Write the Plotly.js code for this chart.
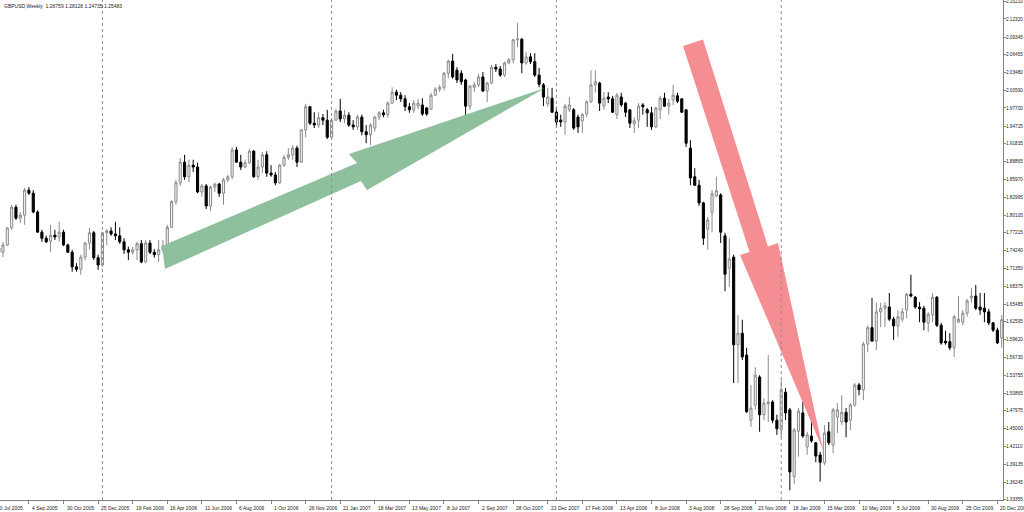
<!DOCTYPE html>
<html><head><meta charset="utf-8">
<script src="https://cdn.plot.ly/plotly-3.0.1.min.js"></script>
<style>html,body{margin:0;padding:0;background:#fff;}#chart{width:1024px;height:512px;}</style>
</head><body><div id="chart"></div>
<script>
const symbolTitle = 'GBPUSD,Weekly  1.26759 1.28128 1.24735 1.25483';

const weekDates = ('2005-07-17 2005-07-24 2005-07-31 2005-08-07 2005-08-14 2005-08-21 2005-08-28 2005-09-04 2005-09-11 2005-09-18 2005-09-25 2005-10-02 2005-10-09 2005-10-16 2005-10-23 2005-10-30 2005-11-06 2005-11-13 2005-11-20 2005-11-27 2005-12-04 2005-12-11 2005-12-18 2005-12-25 ' +
'2006-01-01 2006-01-08 2006-01-15 2006-01-22 2006-01-29 2006-02-05 2006-02-12 2006-02-19 2006-02-26 2006-03-05 2006-03-12 2006-03-19 2006-03-26 2006-04-02 2006-04-09 2006-04-16 2006-04-23 2006-04-30 2006-05-07 2006-05-14 2006-05-21 2006-05-28 2006-06-04 2006-06-11 2006-06-18 2006-06-25 2006-07-02 2006-07-09 2006-07-16 2006-07-23 2006-07-30 2006-08-06 2006-08-13 2006-08-20 2006-08-27 2006-09-03 2006-09-10 2006-09-17 2006-09-24 2006-10-01 2006-10-08 2006-10-15 2006-10-22 2006-10-29 2006-11-05 2006-11-12 2006-11-19 2006-11-26 2006-12-03 2006-12-10 2006-12-17 2006-12-24 2006-12-31 ' +
'2007-01-07 2007-01-14 2007-01-21 2007-01-28 2007-02-04 2007-02-11 2007-02-18 2007-02-25 2007-03-04 2007-03-11 2007-03-18 2007-03-25 2007-04-01 2007-04-08 2007-04-15 2007-04-22 2007-04-29 2007-05-06 2007-05-13 2007-05-20 2007-05-27 2007-06-03 2007-06-10 2007-06-17 2007-06-24 2007-07-01 2007-07-08 2007-07-15 2007-07-22 2007-07-29 2007-08-05 2007-08-12 2007-08-19 2007-08-26 2007-09-02 2007-09-09 2007-09-16 2007-09-23 2007-09-30 2007-10-07 2007-10-14 2007-10-21 2007-10-28 2007-11-04 2007-11-11 2007-11-18 2007-11-25 2007-12-02 2007-12-09 2007-12-16 2007-12-23 2007-12-30 ' +
'2008-01-06 2008-01-13 2008-01-20 2008-01-27 2008-02-03 2008-02-10 2008-02-17 2008-02-24 2008-03-02 2008-03-09 2008-03-16 2008-03-23 2008-03-30 2008-04-06 2008-04-13 2008-04-20 2008-04-27 2008-05-04 2008-05-11 2008-05-18 2008-05-25 2008-06-01 2008-06-08 2008-06-15 2008-06-22 2008-06-29 2008-07-06 2008-07-13 2008-07-20 2008-07-27 2008-08-03 2008-08-10 2008-08-17 2008-08-24 2008-08-31 2008-09-07 2008-09-14 2008-09-21 2008-09-28 2008-10-05 2008-10-12 2008-10-19 2008-10-26 2008-11-02 2008-11-09 2008-11-16 2008-11-23 2008-11-30 2008-12-07 2008-12-14 2008-12-21 2008-12-28 ' +
'2009-01-04 2009-01-11 2009-01-18 2009-01-25 2009-02-01 2009-02-08 2009-02-15 2009-02-22 2009-03-01 2009-03-08 2009-03-15 2009-03-22 2009-03-29 2009-04-05 2009-04-12 2009-04-19 2009-04-26 2009-05-03 2009-05-10 2009-05-17 2009-05-24 2009-05-31 2009-06-07 2009-06-14 2009-06-21 2009-06-28 2009-07-05 2009-07-12 2009-07-19 2009-07-26 2009-08-02 2009-08-09 2009-08-16 2009-08-23 2009-08-30 2009-09-06 2009-09-13 2009-09-20 2009-09-27 2009-10-04 2009-10-11 2009-10-18 2009-10-25 2009-11-01 2009-11-08 2009-11-15 2009-11-22 2009-11-29 2009-12-06 2009-12-13 2009-12-20 2009-12-27').split(' ');

const openPrices = [
1.747,1.740,1.752,1.780,1.814,1.796,1.801,1.842,1.837,1.806,
1.773,1.763,1.758,1.768,1.765,1.773,1.752,1.740,1.716,1.712,
1.732,1.755,1.772,1.731,1.719,1.772,1.775,1.770,1.767,1.757,
1.744,1.740,1.744,1.754,1.724,1.755,1.740,1.736,1.744,1.750,
1.781,1.823,1.854,1.888,1.864,1.883,1.880,1.839,1.849,1.816,
1.847,1.852,1.837,1.859,1.864,1.908,1.888,1.880,1.887,1.906,
1.864,1.880,1.900,1.870,1.867,1.854,1.883,1.896,1.900,1.911,
1.888,1.941,1.979,1.952,1.949,1.961,1.957,1.929,1.957,1.972,
1.959,1.965,1.949,1.946,1.962,1.938,1.933,1.944,1.962,1.969,
1.966,1.985,2.003,1.998,1.992,1.979,1.974,1.980,1.982,1.977,
1.975,1.998,2.008,2.011,2.034,2.054,2.039,2.034,2.023,1.980,
2.011,2.015,2.028,2.005,2.018,2.044,2.041,2.031,2.051,2.056,
2.089,2.090,2.051,2.061,2.053,2.031,2.015,1.984,1.993,1.970,
1.957,1.954,1.974,1.974,1.962,1.956,1.967,1.987,2.015,2.018,
1.980,1.995,1.992,1.966,1.995,1.985,1.974,1.951,1.957,1.982,
1.974,1.969,1.946,1.974,1.993,1.980,1.990,1.997,1.992,1.974,
1.911,1.864,1.850,1.821,1.778,1.805,1.832,1.834,1.767,1.714,
1.732,1.588,1.607,1.571,1.464,1.489,1.535,1.473,1.491,1.494,
1.464,1.448,1.510,1.481,1.371,1.446,1.476,1.420,1.438,1.427,
1.407,1.394,1.445,1.423,1.469,1.461,1.477,1.464,1.489,1.522,
1.514,1.589,1.616,1.594,1.642,1.648,1.650,1.630,1.619,1.630,
1.645,1.671,1.666,1.650,1.648,1.624,1.637,1.666,1.620,1.594,
1.593,1.583,1.625,1.625,1.640,1.665,1.668,1.650,1.648,1.642,
1.624,1.612,1.599];

const highPrices = [
1.754,1.757,1.781,1.818,1.818,1.806,1.846,1.847,1.842,1.809,
1.777,1.767,1.785,1.777,1.790,1.777,1.754,1.744,1.722,1.736,
1.757,1.780,1.775,1.736,1.773,1.778,1.781,1.790,1.781,1.763,
1.749,1.749,1.757,1.760,1.760,1.760,1.745,1.760,1.760,1.785,
1.826,1.859,1.895,1.900,1.892,1.892,1.887,1.852,1.852,1.850,
1.854,1.854,1.862,1.867,1.913,1.913,1.900,1.892,1.910,1.908,
1.892,1.905,1.906,1.883,1.872,1.885,1.900,1.911,1.916,1.915,
1.942,1.984,1.980,1.970,1.970,1.967,1.974,1.961,1.975,1.992,
1.974,1.970,1.957,1.966,1.966,1.949,1.952,1.964,1.972,1.974,
1.988,2.011,2.007,2.003,1.998,1.985,1.990,1.992,1.993,1.979,
2.002,2.011,2.015,2.036,2.056,2.066,2.044,2.039,2.025,2.015,
2.020,2.033,2.036,2.020,2.048,2.049,2.046,2.053,2.059,2.090,
2.117,2.092,2.069,2.067,2.067,2.043,2.018,2.010,2.010,1.979,
1.966,1.984,1.995,1.977,1.966,1.969,1.990,2.039,2.039,2.020,
2.003,2.003,1.997,2.002,2.002,1.987,1.975,1.962,1.985,1.985,
1.977,1.979,1.979,1.997,2.002,1.992,2.015,2.002,1.993,1.975,
1.924,1.878,1.859,1.823,1.798,1.842,1.864,1.837,1.772,1.763,
1.736,1.637,1.629,1.583,1.522,1.551,1.538,1.500,1.571,1.497,
1.473,1.530,1.517,1.484,1.451,1.484,1.494,1.445,1.464,1.428,
1.412,1.456,1.461,1.484,1.492,1.505,1.484,1.492,1.525,1.525,
1.593,1.620,1.665,1.657,1.657,1.658,1.673,1.634,1.645,1.648,
1.673,1.703,1.668,1.658,1.652,1.642,1.673,1.668,1.624,1.611,
1.607,1.637,1.668,1.645,1.663,1.681,1.686,1.673,1.673,1.647,
1.625,1.616,1.637];

const lowPrices = [
1.732,1.732,1.750,1.777,1.793,1.788,1.785,1.834,1.804,1.772,
1.757,1.755,1.740,1.760,1.757,1.750,1.739,1.708,1.708,1.703,
1.727,1.745,1.727,1.711,1.716,1.752,1.767,1.760,1.754,1.737,
1.727,1.736,1.727,1.722,1.722,1.737,1.731,1.724,1.740,1.747,
1.780,1.818,1.849,1.859,1.855,1.872,1.837,1.831,1.811,1.808,
1.839,1.831,1.818,1.855,1.860,1.887,1.875,1.878,1.885,1.862,
1.859,1.870,1.864,1.864,1.850,1.852,1.880,1.892,1.892,1.880,
1.887,1.929,1.949,1.944,1.944,1.949,1.926,1.928,1.956,1.954,
1.952,1.946,1.941,1.941,1.932,1.919,1.916,1.938,1.957,1.962,
1.961,1.984,1.990,1.987,1.972,1.969,1.969,1.975,1.964,1.964,
1.974,1.997,2.003,2.006,2.026,2.025,2.018,2.015,1.965,1.974,
2.003,2.011,2.003,1.987,2.016,2.036,2.028,2.028,2.049,2.051,
2.077,2.034,2.048,2.049,2.028,2.011,1.980,1.979,1.969,1.946,
1.946,1.933,1.970,1.941,1.936,1.936,1.962,1.985,2.002,1.972,
1.974,1.985,1.969,1.959,1.979,1.962,1.944,1.936,1.944,1.966,
1.946,1.941,1.944,1.959,1.979,1.966,1.982,1.985,1.969,1.913,
1.850,1.849,1.816,1.752,1.744,1.773,1.831,1.755,1.676,1.683,
1.525,1.525,1.563,1.476,1.453,1.481,1.445,1.464,1.461,1.459,
1.440,1.435,1.464,1.349,1.359,1.404,1.435,1.407,1.427,1.395,
1.363,1.390,1.423,1.410,1.443,1.456,1.436,1.448,1.486,1.505,
1.497,1.576,1.593,1.579,1.617,1.617,1.627,1.596,1.601,1.625,
1.632,1.666,1.647,1.625,1.612,1.609,1.625,1.617,1.588,1.588,
1.579,1.568,1.624,1.620,1.634,1.657,1.645,1.637,1.625,1.620,
1.609,1.589,1.583];

const closePrices = [
1.740,1.752,1.780,1.814,1.796,1.801,1.842,1.837,1.806,1.773,
1.763,1.757,1.768,1.765,1.773,1.752,1.740,1.716,1.712,1.732,
1.755,1.772,1.731,1.719,1.772,1.775,1.770,1.767,1.757,1.744,
1.740,1.744,1.754,1.724,1.755,1.740,1.736,1.744,1.750,1.781,
1.823,1.854,1.888,1.864,1.883,1.880,1.839,1.849,1.816,1.847,
1.852,1.837,1.859,1.864,1.908,1.888,1.880,1.887,1.906,1.864,
1.880,1.900,1.870,1.867,1.854,1.883,1.896,1.900,1.911,1.888,
1.941,1.979,1.952,1.949,1.961,1.957,1.929,1.957,1.972,1.959,
1.965,1.949,1.946,1.962,1.938,1.933,1.949,1.962,1.969,1.966,
1.985,2.003,1.998,1.992,1.979,1.974,1.985,1.985,1.967,1.967,
1.998,2.008,2.011,2.034,2.054,2.028,2.023,2.020,1.980,2.013,
2.015,2.028,2.005,2.018,2.044,2.041,2.031,2.051,2.056,2.089,
2.090,2.051,2.061,2.053,2.031,2.016,1.995,1.995,1.970,1.954,
1.954,1.980,1.982,1.944,1.946,1.966,1.987,2.015,2.020,1.985,
1.993,1.992,1.970,1.998,1.982,1.970,1.952,1.956,1.980,1.979,
1.969,1.946,1.977,1.993,1.980,1.985,1.998,1.988,1.970,1.919,
1.862,1.850,1.821,1.763,1.793,1.836,1.841,1.773,1.704,1.729,
1.588,1.607,1.568,1.478,1.484,1.538,1.473,1.492,1.494,1.464,
1.450,1.514,1.476,1.379,1.448,1.479,1.438,1.440,1.430,1.405,
1.395,1.443,1.427,1.481,1.481,1.477,1.461,1.489,1.522,1.514,
1.589,1.616,1.594,1.642,1.648,1.652,1.630,1.619,1.634,1.642,
1.671,1.668,1.650,1.647,1.625,1.638,1.666,1.620,1.591,1.591,
1.583,1.634,1.630,1.640,1.660,1.668,1.648,1.645,1.642,1.624,
1.612,1.591,1.629];

const tickDates = ['2005-07-10','2005-09-04','2005-10-30','2005-12-25','2006-02-19','2006-04-16','2006-06-11','2006-08-06','2006-10-01','2006-11-26','2007-01-21','2007-03-18','2007-05-13','2007-07-08','2007-09-02','2007-10-28','2007-12-23','2008-02-17','2008-04-13','2008-06-08','2008-08-03','2008-09-28','2008-11-23','2009-01-18','2009-03-15','2009-05-10','2009-07-05','2009-08-30','2009-10-25','2009-12-20'];
const tickLabels = ['10 Jul 2005','4 Sep 2005','30 Oct 2005','25 Dec 2005','19 Feb 2006','16 Apr 2006','11 Jun 2006','6 Aug 2006','1 Oct 2006','26 Nov 2006','21 Jan 2007','18 Mar 2007','13 May 2007','8 Jul 2007','2 Sep 2007','28 Oct 2007','23 Dec 2007','17 Feb 2008','13 Apr 2008','8 Jun 2008','3 Aug 2008','28 Sep 2008','23 Nov 2008','18 Jan 2009','15 Mar 2009','10 May 2009','5 Jul 2009','30 Aug 2009','25 Oct 2009','20 Dec 2009'];

const priceTicks = [2.15210,2.12320,2.09345,2.06455,2.03480,2.00590,1.97700,1.94725,1.91835,1.88865,1.85970,1.82995,1.80105,1.77215,1.74240,1.71350,1.68375,1.65485,1.62595,1.59620,1.56730,1.53755,1.50865,1.47975,1.45000,1.42110,1.39135,1.36245,1.33355];

const yearSeparators = ['2006-01-01','2007-01-07','2008-01-06','2009-01-04'];

// drawn arrow objects (vertex time / price)
const greenArrowTime = ['2006-04-07 10:00','2007-02-17 05:00','2007-02-04 05:00','2007-12-18 14:00','2007-03-05 10:00','2007-02-23 14:00','2006-04-12 07:00','2006-04-07 10:00'];
const greenArrowPrice = [1.7502,1.8866,1.9014,2.0098,1.8422,1.8571,1.7124,1.7502];
const redArrowTime = ['2008-07-29 00:00','2008-11-13 19:00','2008-10-29 07:00','2009-03-12 17:00','2008-12-29 19:00','2008-12-13 14:00','2008-08-30 10:00','2008-07-29 00:00'];
const redArrowPrice = [2.0788,1.7404,1.7355,1.4151,1.7552,1.7495,2.0895,2.0788];

const xRange = ['2005-07-19 03:40','2009-12-29 02:00'];
const yRange = [1.3329, 2.1544];

const fontFam = 'Liberation Sans, Arial, sans-serif';
const traces = [
  {type:'scatter', mode:'lines', x:greenArrowTime, y:greenArrowPrice, fill:'toself', fillcolor:'rgb(143,192,158)', line:{color:'rgba(0,0,0,0)', width:0}, hoverinfo:'skip'},
  {type:'scatter', mode:'lines', x:redArrowTime, y:redArrowPrice, fill:'toself', fillcolor:'rgb(245,142,147)', line:{color:'rgba(0,0,0,0)', width:0}, hoverinfo:'skip'},
  {type:'candlestick', x:weekDates, open:openPrices, high:highPrices, low:lowPrices, close:closePrices,
   increasing:{line:{color:'#8a8a8a', width:1}, fillcolor:'#f4f4f4'},
   decreasing:{line:{color:'#000000', width:1}, fillcolor:'#000000'},
   whiskerwidth:0, hoverinfo:'skip'}
];

const annotations = [];
annotations.push({xref:'paper', yref:'paper', x:0, y:1, xanchor:'left', yanchor:'top', xshift:2, yshift:-1, text:symbolTitle, showarrow:false, font:{family:fontFam, size:5, color:'#222'}});
const x0 = new Date(xRange[0].replace(' ','T')+'Z').getTime();
const x1 = new Date(xRange[1].replace(' ','T')+'Z').getTime();
tickDates.forEach((d,i)=>{
  const t = new Date(d+'T00:00:00Z').getTime();
  const inRange = t >= x0 && t <= x1;
  annotations.push({xref: inRange ? 'x' : 'paper', x: inRange ? d : (t-x0)/(x1-x0), yref:'paper', y:0, xanchor:'left', yanchor:'top', xshift:1, yshift:-3,
    text:tickLabels[i], showarrow:false, font:{family:fontFam, size:5, color:'#222'}});
});

const layout = {
  width:1024, height:512, margin:{l:0, r:21, t:0, b:12},
  paper_bgcolor:'#ffffff', plot_bgcolor:'#ffffff', showlegend:false,
  xaxis:{type:'date', range:xRange, rangeslider:{visible:false}, showgrid:false, zeroline:false,
    showline:true, linecolor:'#808080', linewidth:1, tickvals:tickDates, ticks:'outside', ticklen:3, tickcolor:'#808080', showticklabels:false, fixedrange:true},
  yaxis:{side:'right', range:yRange, tickvals:priceTicks, ticktext:priceTicks.map(v=>v.toFixed(5)), ticks:'outside', ticklen:2, tickcolor:'#808080',
    ticklabelstandoff:-1, ticklabeloverflow:'allow',
    showline:true, linecolor:'#808080', linewidth:1, showgrid:false, zeroline:false, tickfont:{family:fontFam, size:4.7, color:'#222'}, fixedrange:true},
  shapes: yearSeparators.map(d=>({type:'line', xref:'x', yref:'paper', x0:d, x1:d, y0:0, y1:1, layer:'above', line:{color:'#8c8c8c', width:1, dash:'dot'}})),
  annotations: annotations
};

Plotly.newPlot('chart', traces, layout, {staticPlot:true, displayModeBar:false});
</script>
</body></html>
